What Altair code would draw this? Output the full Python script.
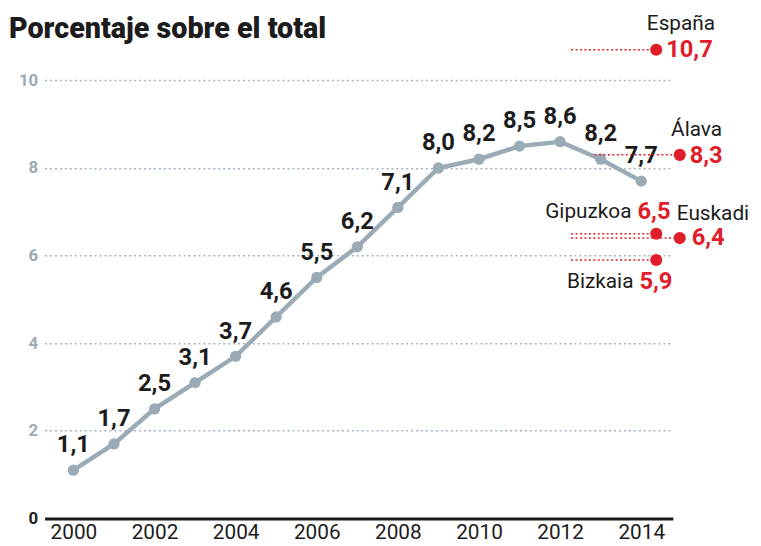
import altair as alt
import pandas as pd

# ---- data ----
years = list(range(2000, 2015))
values = [1.1, 1.7, 2.5, 3.1, 3.7, 4.6, 5.5, 6.2, 7.1, 8.0, 8.2, 8.5, 8.6, 8.2, 7.7]
regions = ["España", "Álava", "Gipuzkoa", "Euskadi", "Bizkaia"]
region_values = [10.7, 8.3, 6.5, 6.4, 5.9]
x_ticks = [2000, 2002, 2004, 2006, 2008, 2010, 2012, 2014]
y_ticks = [0, 2, 4, 6, 8, 10]
title_text = "Porcentaje sobre el total"

# ---- style ----
GREY = "#9aabb6"
RED = "#e01e2a"
DARK = "#1c1c1c"
FONT = "Roboto, sans-serif"

df = pd.DataFrame({"year": years, "v": values})

xscale = alt.Scale(domain=[1999.29, 2014.78], nice=False, zero=False)
yscale = alt.Scale(domain=[0, 11], nice=False)

base = alt.Chart(df).encode(
    x=alt.X("year:Q", scale=xscale,
            axis=alt.Axis(values=x_ticks, format="d", title=None, grid=False, ticks=False,
                          domainColor=DARK, domainWidth=3, labelFontSize=21, labelColor=DARK,
                          labelFont=FONT, labelPadding=3)),
    y=alt.Y("v:Q", scale=yscale,
            axis=alt.Axis(values=y_ticks, title=None, grid=True, gridDash=[2, 3], gridColor="#a3b3be",
                          gridWidth=1.5, ticks=False, domain=False, labelFontSize=17, labelFont=FONT,
                          labelFontWeight="bold", labelPadding=7,
                          labelColor=alt.condition("datum.value == 0", alt.value(DARK), alt.value(GREY)))),
)

line = base.mark_line(color=GREY, strokeWidth=4.5)
pts = base.mark_circle(color=GREY, opacity=1, size=130)
labels = base.mark_text(font=FONT, fontSize=24, fontWeight="bold", color=DARK, dy=-25,
                        baseline="middle").transform_calculate(
    lab="replace(format(datum.v, '.1f'), '.', ',')").encode(text="lab:N")

# regional annotations: layout per region (x of dot, start of dotted rule, label offsets)
COL0, COL1 = 2014.37, 2014.95
layout = {
    "España":   dict(x=COL0, x0=2012.27, name=dict(align="center", dx=25, dy=-26), val=dict(align="left", dx=10, dy=0)),
    "Álava":    dict(x=COL1, x0=2012.85, name=dict(align="center", dx=17, dy=-25), val=dict(align="left", dx=10, dy=1)),
    "Gipuzkoa": dict(x=COL0, x0=2012.27, name=dict(align="right", dx=-25, dy=-22), val=dict(align="left", dx=-19, dy=-22)),
    "Euskadi":  dict(x=COL1, x0=2012.27, name=dict(align="left", dx=-3, dy=-24), val=dict(align="left", dx=12, dy=0)),
    "Bizkaia":  dict(x=COL0, x0=2012.27, name=dict(align="right", dx=-23, dy=22), val=dict(align="left", dx=-17, dy=22)),
}

layers = [line, pts, labels]
one = pd.DataFrame({"a": [0]})
for name, val in zip(regions, region_values):
    L = layout[name]
    valtxt = f"{val:.1f}".replace(".", ",")
    c = alt.Chart(one)
    layers.append(c.mark_rule(color=RED, strokeDash=[2, 2.5], strokeWidth=1.5).encode(
        x=alt.datum(L["x0"], scale=xscale), x2=alt.datum(L["x"]), y=alt.datum(val, scale=yscale)))
    layers.append(c.mark_circle(color=RED, opacity=1, size=150).encode(
        x=alt.datum(L["x"]), y=alt.datum(val)))
    layers.append(c.mark_text(text=name, font=FONT, fontSize=21, color=DARK, baseline="middle",
                              **L["name"]).encode(x=alt.datum(L["x"]), y=alt.datum(val)))
    layers.append(c.mark_text(text=valtxt, font=FONT, fontSize=24, fontWeight="bold", color=RED,
                              baseline="middle", **L["val"]).encode(x=alt.datum(L["x"]), y=alt.datum(val)))

title = alt.Chart(pd.DataFrame({"t": [title_text]})).mark_text(
    align="left", baseline="alphabetic", font="Roboto", fontSize=29, fontWeight=900,
    color=DARK).encode(text="t:N", x=alt.value(-36), y=alt.value(1))
layers.append(title)

chart = alt.layer(*layers).properties(
    width=635, height=487,
    autosize=alt.AutoSizeParams(type="none"),
    padding={"left": 37, "top": 26, "right": 81, "bottom": 25},
).configure_view(stroke=None)

chart.save("out.html", embed_options={"renderer": "svg", "actions": False})
